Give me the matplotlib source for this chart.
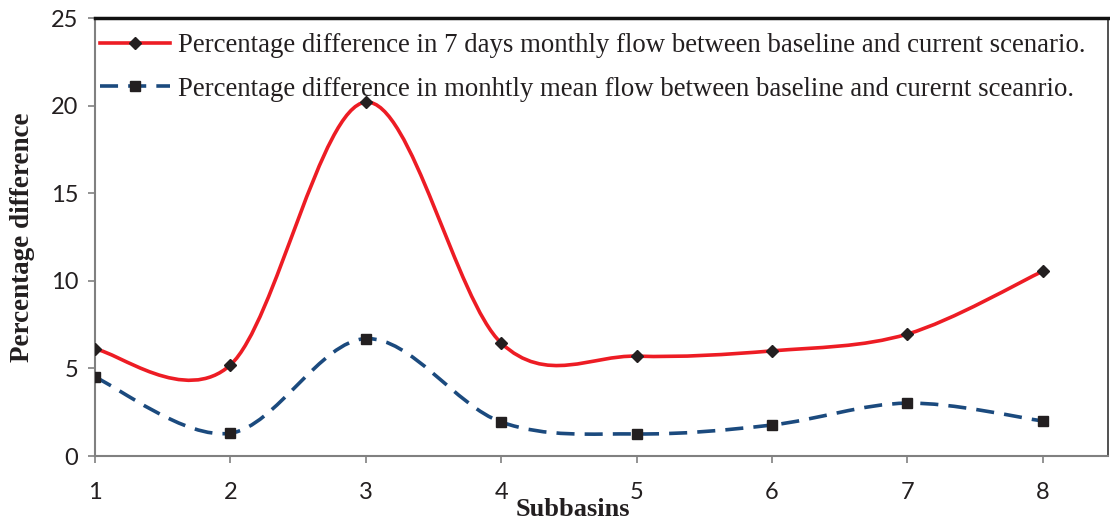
import numpy as np
import matplotlib.pyplot as plt
from matplotlib.path import Path
from matplotlib.patches import PathPatch
from matplotlib.lines import Line2D

subbasins = [1, 2, 3, 4, 5, 6, 7, 8]
diff_7day = [6.1, 5.2, 20.2, 6.45, 5.7, 6.0, 6.96, 10.55]
diff_mean = [4.5, 1.3, 6.7, 1.94, 1.26, 1.77, 3.02, 2.0]

label_7day = 'Percentage difference in 7 days monthly flow between baseline and current scenario.'
label_mean = 'Percentage difference in monhtly mean flow between baseline and curernt sceanrio.'

red = '#ED1C24'
blue = '#1B4A7E'
dash = (0, (5, 2.8))


def smooth_path(x, y):
    # cubic bezier through the points, spreadsheet-style smoothing
    pts = np.column_stack([x, y]).astype(float)
    n = len(pts)
    verts = [pts[0]]
    codes = [Path.MOVETO]
    for i in range(n - 1):
        p0 = pts[max(i - 1, 0)]
        p1 = pts[i]
        p2 = pts[i + 1]
        p3 = pts[min(i + 2, n - 1)]
        c1 = p1 + (p2 - p0) / 6.0
        c2 = p2 - (p3 - p1) / 6.0
        verts += [c1, c2, p2]
        codes += [Path.CURVE4] * 3
    return Path(verts, codes)


fig = plt.figure(figsize=(11.1, 5.25), dpi=100)
ax = fig.add_axes([0.0856, 0.1314, 0.9124, 0.8343])

ax.add_patch(PathPatch(smooth_path(subbasins, diff_7day), fill=False,
                       edgecolor=red, lw=2.6, zorder=2))
ax.add_patch(PathPatch(smooth_path(subbasins, diff_mean), fill=False,
                       edgecolor=blue, lw=2.6, linestyle=dash, zorder=2))
ax.plot(subbasins, diff_7day, ls='none', marker='D', ms=6.5, color='#231F20', zorder=3)
ax.plot(subbasins, diff_mean, ls='none', marker='s', ms=7.5, color='#231F20', zorder=3)

ax.set_xlim(1, 8.48)
ax.set_ylim(0, 25)
ax.set_xticks(subbasins)
ax.set_yticks([0, 5, 10, 15, 20, 25])

for side in ['left', 'bottom']:
    ax.spines[side].set_color('#808080')
    ax.spines[side].set_linewidth(1.5)
ax.spines['top'].set_color('#111111')
ax.spines['top'].set_linewidth(2.5)
ax.spines['right'].set_color('#333333')
ax.spines['right'].set_linewidth(1.2)

ax.tick_params(axis='both', direction='out', length=5, width=1.2, color='#808080',
               labelsize=17, labelcolor='#231F20')
ax.tick_params(axis='x', pad=14)
ax.tick_params(axis='y', pad=7)
for lab in ax.get_xticklabels() + ax.get_yticklabels():
    lab.set_family('Lato')

ax.set_xlabel('Subbasins', family='Liberation Serif', fontweight='bold', fontsize=19,
              color='#231F20')
ax.xaxis.set_label_coords(0.472, -0.095)
ax.set_ylabel('Percentage difference', family='Liberation Serif', fontweight='bold',
              fontsize=19.5, color='#231F20')
ax.yaxis.set_label_coords(-0.059, 0.5)

handles = [
    Line2D([], [], color=red, lw=2.6, marker='D', ms=6.5, mfc='#231F20', mec='#231F20'),
    Line2D([], [], color=blue, lw=2.6, ls=dash, marker='s', ms=7.5,
           mfc='#231F20', mec='#231F20'),
]
ax.legend(handles, [label_7day, label_mean], loc='upper left', bbox_to_anchor=(-0.01, 1.0),
          frameon=False, handlelength=2.6, handletextpad=0.3, labelspacing=0.7,
          borderaxespad=0.16, borderpad=0.4, prop={'family': 'Liberation Serif', 'size': 19.3},
          labelcolor='#231F20')

fig.savefig('out.png', dpi=100)
